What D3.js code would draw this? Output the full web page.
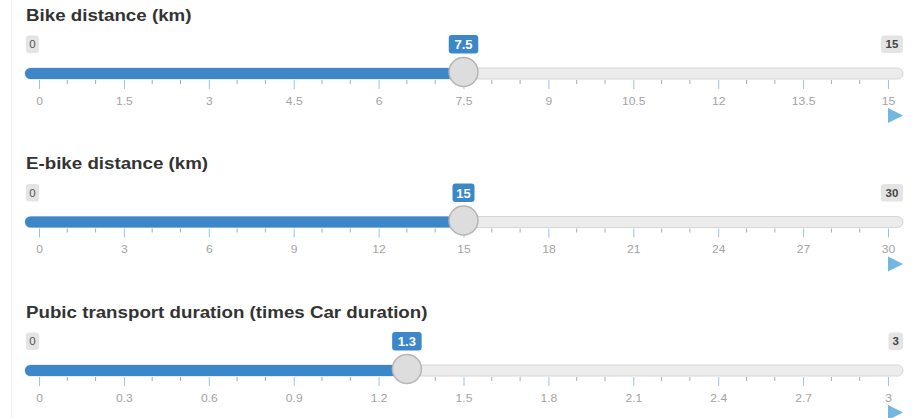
<!DOCTYPE html>
<html>
<head>
<meta charset="utf-8">
<script src="https://cdn.jsdelivr.net/npm/d3@7"></script>
<style>
  body { margin: 0; background: #fff; }
  text { font-family: "Liberation Sans", Arial, sans-serif; }
</style>
</head>
<body>
<div id="chart"></div>
<script>
var svgWidth = 915;
var svgHeight = 418;

// slider data
var titles = ["Bike distance (km)", "E-bike distance (km)", "Pubic transport duration (times Car duration)"];
var mins = [0, 0, 0];
var maxes = [15, 30, 3];
var values = [7.5, 15, 1.3];
var tickSteps = [1.5, 3, 0.3];

var trackLeft = 25, trackRight = 903;
var gridLeft = 39, gridRight = 888;
var rowGap = 148.5;

var svg = d3.select("#chart").append("svg")
    .attr("width", svgWidth)
    .attr("height", svgHeight);

// the screenshot is a bit wider than tall, so stretch text sideways
function stretch(sel, k) {
    sel.each(function () {
        var w = this.getComputedTextLength();
        d3.select(this).attr("textLength", w * k).attr("lengthAdjust", "spacingAndGlyphs");
    });
}

// faint panel edge on the left
svg.append("line")
    .attr("x1", 11.5).attr("x2", 11.5)
    .attr("y1", 0).attr("y2", svgHeight)
    .attr("stroke", "#f0f0f0");

titles.forEach(function (title, i) {
    var g = svg.append("g").attr("transform", `translate(0, ${i * rowGap})`);
    var x = d3.scaleLinear().domain([mins[i], maxes[i]]).range([gridLeft, gridRight]);
    var fmt = d3.format("~g");
    var nMajor = Math.round((maxes[i] - mins[i]) / tickSteps[i]);
    var majors = d3.range(nMajor + 1).map(k => +(mins[i] + k * tickSteps[i]).toFixed(4));
    var minors = d3.range(nMajor * 3 + 1).map(k => mins[i] + k * tickSteps[i] / 3)
        .filter((d, k) => k % 3 !== 0);

    // title
    g.append("text")
        .attr("x", 26).attr("y", 20.5)
        .attr("font-size", "16px").attr("font-weight", "bold")
        .attr("fill", "#333")
        .text(title)
        .call(stretch, 1.17);

    // min and max labels
    var minText = fmt(mins[i]), maxText = fmt(maxes[i]);
    g.append("rect")
        .attr("x", 26).attr("y", 35.5).attr("width", 13).attr("height", 17.5).attr("rx", 3)
        .attr("fill", "#e4e4e4");
    g.append("text")
        .attr("x", 32.5).attr("y", 48).attr("text-anchor", "middle")
        .attr("font-size", "11.5px").attr("fill", "#555")
        .text(minText);
    var maxW = maxText.length * 7.5 + 7;
    g.append("rect")
        .attr("x", trackRight - maxW).attr("y", 35.5).attr("width", maxW).attr("height", 17.5).attr("rx", 3)
        .attr("fill", "#e4e4e4");
    g.append("text")
        .attr("x", trackRight - maxW / 2).attr("y", 48).attr("text-anchor", "middle")
        .attr("font-size", "11.5px").attr("font-weight", "bold").attr("fill", "#444")
        .text(maxText);

    // track
    var hx = x(values[i]);
    g.append("rect")
        .attr("x", trackLeft).attr("y", 68).attr("width", trackRight - trackLeft).attr("height", 11)
        .attr("rx", 5.5)
        .attr("fill", "#ececec").attr("stroke", "#d6d6d6");
    g.append("rect")
        .attr("x", trackLeft).attr("y", 68).attr("width", hx - trackLeft).attr("height", 11)
        .attr("rx", 5.5)
        .attr("fill", "#3c87c9");

    // grid: minor ticks
    g.selectAll(".minor").data(minors).enter().append("line")
        .attr("x1", d => x(d)).attr("x2", d => x(d))
        .attr("y1", 80).attr("y2", 84)
        .attr("stroke", "#aaa");

    // grid: major ticks + labels via axis
    var axis = d3.axisBottom(x).tickValues(majors).tickFormat(fmt).tickSize(9).tickPadding(8);
    var ax = g.append("g").attr("transform", "translate(0,80)").call(axis);
    ax.select(".domain").remove();
    ax.selectAll(".tick line").attr("stroke", "#9cc3e6");
    ax.selectAll(".tick text")
        .attr("fill", "#a3a3a3")
        .attr("font-size", "11px")
        .attr("font-family", "Liberation Sans, Arial, sans-serif")
        .call(stretch, 1.1);

    // handle
    g.append("circle")
        .attr("cx", hx).attr("cy", 72).attr("r", 14.5)
        .attr("fill", "#dddddd").attr("stroke", "#b5b5b5").attr("stroke-width", 1.5);

    // value label
    var valText = fmt(values[i]);
    var vW = valText.length * 7.5 + 7;
    g.append("rect")
        .attr("x", hx - vW / 2).attr("y", 35).attr("width", vW).attr("height", 18.5).attr("rx", 3)
        .attr("fill", "#3c87c9");
    g.append("text")
        .attr("x", hx).attr("y", 49).attr("text-anchor", "middle")
        .attr("font-size", "13px").attr("font-weight", "bold").attr("fill", "#fff")
        .text(valText);

    // play triangle
    g.append("path")
        .attr("d", `M${trackRight - 15},108 L${trackRight},115.5 L${trackRight - 15},123 Z`)
        .attr("fill", "#74b6e2");
});
</script>
</body>
</html>
